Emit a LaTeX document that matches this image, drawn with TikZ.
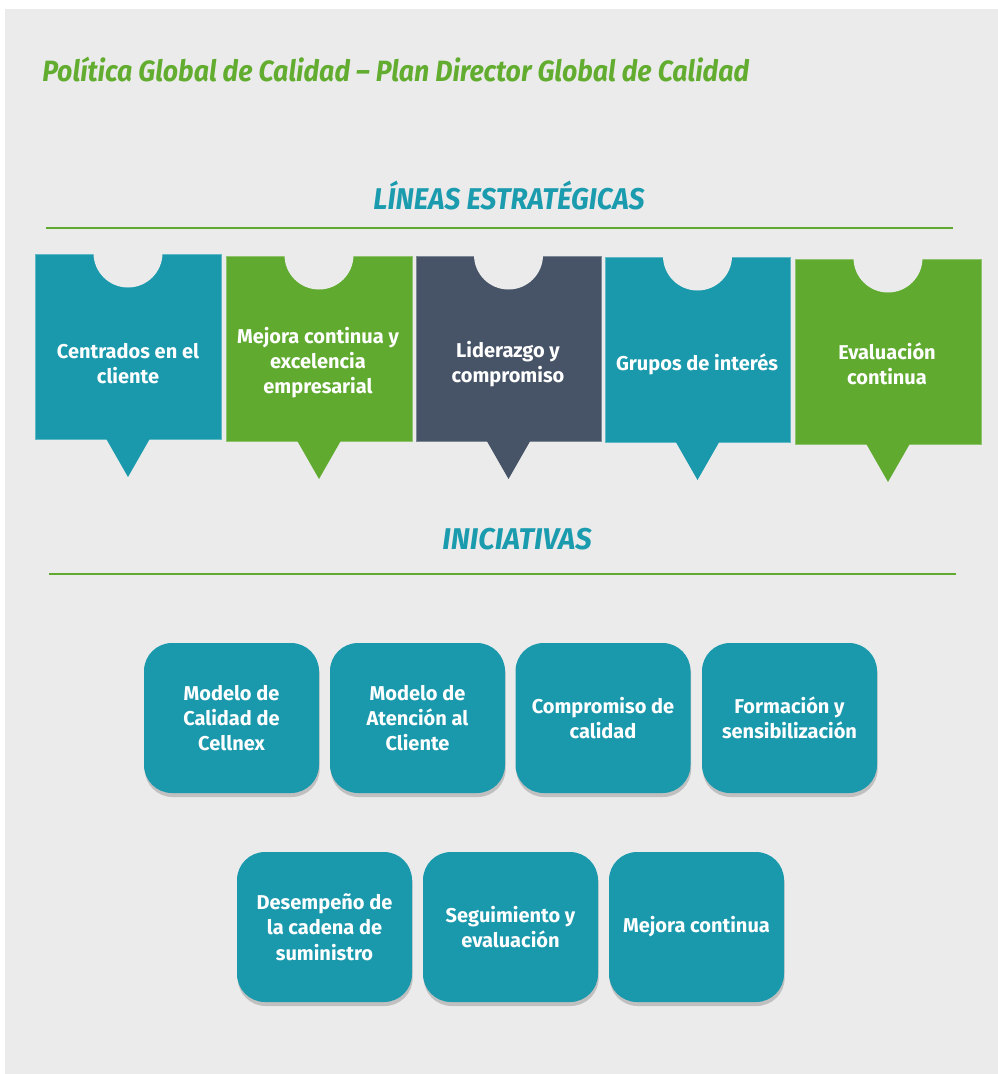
\documentclass[tikz,border=0pt]{standalone}
\usepackage{fontspec}
\setmainfont{Fira Sans}
\usetikzlibrary{shadows}
\definecolor{bg}{HTML}{EBEBEB}
\definecolor{teal}{HTML}{1A99AD}
\definecolor{lgreen}{HTML}{5FAA2F}
\definecolor{slate}{HTML}{475467}
\definecolor{tgreen}{HTML}{62AD2F}
\definecolor{theading}{HTML}{1A9BAE}
\tikzset{
  lbl/.style={text=white, align=center, font=\fontsize{15}{18.8}\selectfont\bfseries, inner sep=0pt},
  ini/.style={fill=teal, rounded corners=21pt, minimum width=131.25pt, minimum height=112.5pt,
    text=white, align=center, font=\fontsize{15}{19}\selectfont\bfseries, inner sep=0pt,
    drop shadow={shadow xshift=0.5pt, shadow yshift=-3pt, opacity=0.18, fill=black}},
  rule/.style={draw=lgreen, line width=1.6pt},
  heading/.style={text=theading, font=\fontsize{22.5}{25}\selectfont\bfseries\itshape, inner sep=0pt}
}
\newcommand{\puzzle}[7]{% color, L, R, T, B, tipY, name
  \fill[#1, draw=#1!70!white, line width=0.5pt] (#2,#4) rectangle (#3,#5);
  \fill[#1] ({(#2+#3)/2-22},#5-0.5) -- ({(#2+#3)/2},#6) -- ({(#2+#3)/2+22},#5-0.5) -- cycle;
  \fill[bg] ({(#2+#3)/2},#4-1) circle[radius=34.5];
}
\begin{document}
\begin{tikzpicture}[x=0.75pt, y=-0.75pt]
\useasboundingbox (0,0) rectangle (998,1074);
\fill[white] (0,0) rectangle (998,1074);
\fill[bg] (5,9) rectangle (998,1074);

\node[anchor=base west, inner sep=0pt, text=tgreen] (title) at (42,81)
  {\scalebox{0.91}[1]{\fontsize{22}{24}\selectfont\bfseries\itshape Política Global de Calidad – Plan Director Global de Calidad}};

% strategic lines
\puzzle{teal}{35}{221}{254}{439}{477}{p1}
\puzzle{lgreen}{226}{412}{256}{441}{479}{p2}
\puzzle{slate}{416}{601}{256}{441}{479}{p3}
\puzzle{teal}{605}{790}{257}{442}{480}{p4}
\puzzle{lgreen}{795}{981}{259}{444}{482}{p5}

\node[heading, anchor=base] (lineas) at (509,209) {\scalebox{0.93}[1]{LÍNEAS ESTRATÉGICAS}};
\draw[rule] (46,228) -- (953,228);

\node[lbl] (l1) at (128,364) {Centrados en el\\cliente};
\node[lbl] (l2) at (318,363) {Mejora continua y\\excelencia\\empresarial};
\node[lbl] (l3) at (508,364) {Liderazgo y\\compromiso};
\node[lbl] (l4) at (697,364) {Grupos de interés};
\node[lbl] (l5) at (887,364) {Evaluación\\continua};

\node[heading, anchor=base] (inic) at (517,549) {\scalebox{0.97}[1]{INICIATIVAS}};
\draw[rule] (49,574) -- (956,574);

% initiatives
\node[ini] (i1) at (231.5,718) {Modelo de\\Calidad de\\Cellnex};
\node[ini] (i2) at (417.5,718) {Modelo de\\Atención al\\Cliente};
\node[ini] (i3) at (603,718) {Compromiso de\\calidad};
\node[ini] (i4) at (789.5,718) {Formación y\\sensibilización};
\node[ini] (i5) at (324.5,927) {Desempeño de\\la cadena de\\suministro};
\node[ini] (i6) at (510.5,927) {Seguimiento y\\evaluación};
\node[ini] (i7) at (696.5,927) {Mejora continua};
\end{tikzpicture}
\end{document}
